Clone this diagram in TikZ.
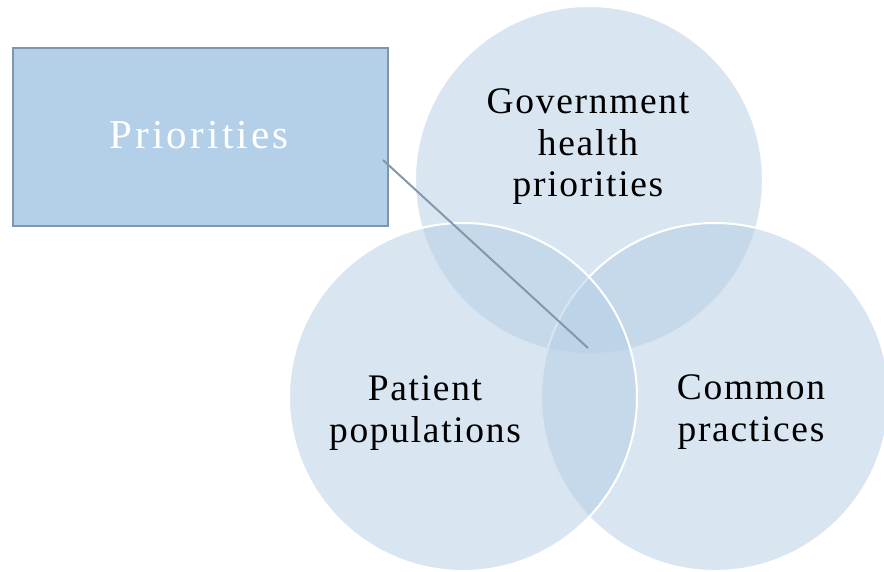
\documentclass[tikz,border=0pt]{standalone}
\usepackage{fontspec}
\setmainfont{Liberation Serif}
\newfontfamily\vennfont[LetterSpace=4.5]{Liberation Serif}
\newfontfamily\prioFont[LetterSpace=8]{Liberation Serif}
\definecolor{circfill}{RGB}{179,205,229}
\definecolor{boxfill}{RGB}{180,208,232}
\definecolor{boxline}{RGB}{128,150,170}
\definecolor{linkline}{RGB}{132,151,171}
\begin{document}
\begin{tikzpicture}[x=1pt,y=-1pt,
  venn/.style={circle, minimum size=348pt, inner sep=0pt, fill=circfill, fill opacity=0.5, draw=white, draw opacity=1, line width=2pt},
  vlabel/.style={align=center, font=\vennfont\fontsize{37.5}{41.5}\selectfont, text=black, text opacity=1},
  prio/.style={draw=boxline, line width=2pt, fill=boxfill, minimum width=375pt, minimum height=178pt, inner sep=0pt}]
\useasboundingbox (0,0) rectangle (884,571);
\node[venn] (gov) at (589,180) {};
\node[venn] (com) at (715,397) {};
\node[venn] (pat) at (463,397) {};
\node[vlabel] (govt) at (588,147) {Government\\health\\priorities};
\node[vlabel] (patt) at (425,413) {Patient\\populations};
\node[vlabel] (comt) at (751,412) {Common\\practices};
\node[prio] (box) at (200,137) {};
\node[font=\prioFont\fontsize{41}{47}\selectfont, text=white] (boxt) at (199,135) {Priorities};
\coordinate (lstart) at (383,160);
\coordinate (lend) at (588,348);
\draw[linkline, line width=2pt] (lstart) -- (lend);
\end{tikzpicture}
\end{document}
